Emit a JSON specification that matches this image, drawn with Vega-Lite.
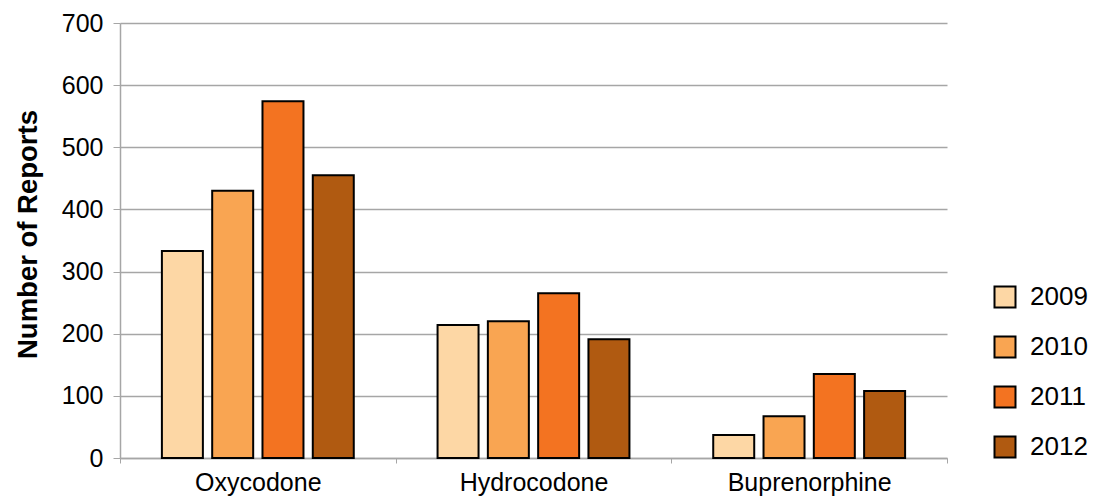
{
  "$schema": "https://vega.github.io/schema/vega-lite/v6.json",
  "width": 827,
  "height": 435,
  "autosize": {"type": "none"},
  "padding": {"left": 120, "top": 23, "right": 146, "bottom": 42},
  "background": "white",
  "config": {
    "font": "Liberation Sans",
    "view": {"stroke": null}
  },
  "data": {
    "values": [
      {"drug": "Oxycodone", "year": "2009", "reports": 333},
      {"drug": "Oxycodone", "year": "2010", "reports": 430},
      {"drug": "Oxycodone", "year": "2011", "reports": 574},
      {"drug": "Oxycodone", "year": "2012", "reports": 455},
      {"drug": "Hydrocodone", "year": "2009", "reports": 214},
      {"drug": "Hydrocodone", "year": "2010", "reports": 220},
      {"drug": "Hydrocodone", "year": "2011", "reports": 265},
      {"drug": "Hydrocodone", "year": "2012", "reports": 191},
      {"drug": "Buprenorphine", "year": "2009", "reports": 37},
      {"drug": "Buprenorphine", "year": "2010", "reports": 67},
      {"drug": "Buprenorphine", "year": "2011", "reports": 135},
      {"drug": "Buprenorphine", "year": "2012", "reports": 108}
    ]
  },
  "mark": {"type": "bar", "stroke": "black", "strokeWidth": 2},
  "encoding": {
    "x": {
      "field": "drug",
      "type": "nominal",
      "sort": ["Oxycodone", "Hydrocodone", "Buprenorphine"],
      "scale": {"paddingInner": 0, "paddingOuter": 0},
      "axis": {
        "title": null,
        "labelAngle": 0,
        "labelFontSize": 25,
        "labelColor": "black",
        "labelPadding": 7,
        "tickBand": "extent",
        "tickSize": 5,
        "tickColor": "#a6a6a6",
        "domainColor": "#a6a6a6",
        "domainWidth": 1.5,
        "grid": false
      }
    },
    "xOffset": {
      "field": "year",
      "type": "nominal",
      "scale": {"paddingInner": 0.185, "paddingOuter": 0.833}
    },
    "y": {
      "field": "reports",
      "type": "quantitative",
      "scale": {"domain": [0, 700]},
      "axis": {
        "title": "Number of Reports",
        "titleFontSize": 27.5,
        "titleFontWeight": "bold",
        "titleColor": "black",
        "titlePadding": 19,
        "titleY": 211,
        "values": [0, 100, 200, 300, 400, 500, 600, 700],
        "labelFontSize": 25,
        "labelColor": "black",
        "labelPadding": 10,
        "tickSize": 7,
        "tickColor": "#a6a6a6",
        "domainColor": "#a6a6a6",
        "domainWidth": 1.5,
        "gridColor": "#a6a6a6",
        "gridWidth": 1.5
      }
    },
    "color": {
      "field": "year",
      "type": "nominal",
      "scale": {
        "domain": ["2009", "2010", "2011", "2012"],
        "range": ["#FDD7A5", "#F9A552", "#F37321", "#B05A11"]
      },
      "legend": {
        "title": null,
        "orient": "none",
        "legendX": 872,
        "legendY": 261,
        "padding": 0,
        "symbolType": "square",
        "symbolSize": 441,
        "symbolStrokeColor": "black",
        "symbolStrokeWidth": 2,
        "symbolOpacity": 1,
        "labelFontSize": 26,
        "labelColor": "black",
        "labelOffset": 12,
        "rowPadding": 20
      }
    }
  }
}
